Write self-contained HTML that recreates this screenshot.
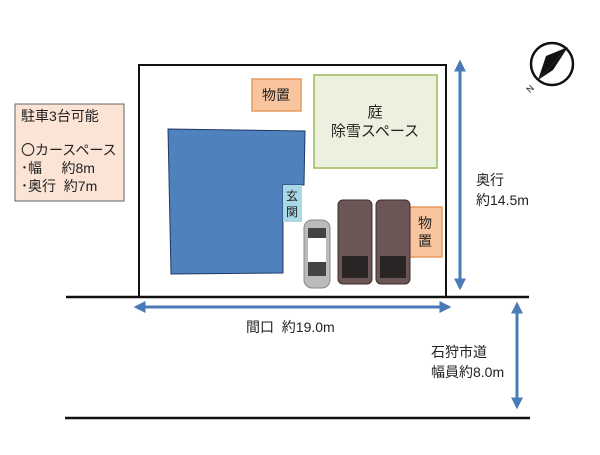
<!DOCTYPE html>
<html><head><meta charset="utf-8"><style>
body{margin:0;background:#fff;width:600px;height:450px;overflow:hidden}
text{font-family:"Liberation Sans","Noto Sans CJK JP",sans-serif;fill:#222;white-space:pre}
</style></head><body>
<svg width="600" height="450" viewBox="0 0 600 450">
<defs>
<marker id="ah" viewBox="0 0 10 10" refX="8" refY="5" markerWidth="4" markerHeight="4" orient="auto-start-reverse"><path d="M0,0L10,5L0,10z" fill="#4a7ab8"/></marker>
</defs>
<rect x="139" y="65" width="307" height="232" fill="#fff" stroke="#111" stroke-width="2"/>
<line x1="66" y1="297" x2="529" y2="297" stroke="#111" stroke-width="2.5"/>
<line x1="65" y1="418" x2="530" y2="418" stroke="#111" stroke-width="2.5"/>
<rect x="15" y="104" width="109" height="97" fill="#fbe4d6" stroke="#666"/>
<text font-size="14" x="21" y="121">駐車3台可能</text>
<text font-size="14" x="21" y="155">〇カースペース</text>
<text font-size="14" x="21" y="173">･幅&#160;&#160;&#160;&#160;&#160;約8m</text>
<text font-size="14" x="21" y="191">･奥行&#160;&#160;約7m</text>
<polygon points="168,129 305,131 304,185 283,185 283,273 171,274" fill="#4f81bd" stroke="#1f3864" stroke-width="1"/>
<rect x="283" y="185" width="19" height="37" fill="#a9d8e6"/>
<text font-size="12" x="286" y="200">玄</text><text font-size="12" x="286" y="216">関</text>
<rect x="252" y="79" width="49" height="32" fill="#f8c59e" stroke="#e79a5f" stroke-width="1.5"/>
<text font-size="14" x="262" y="100">物置</text>
<rect x="314" y="75" width="123" height="93" fill="#ebf1de" stroke="#9bbb59" stroke-width="1.5"/>
<text font-size="15" x="375" y="117" text-anchor="middle">庭</text>
<text font-size="15" x="375" y="136" text-anchor="middle">除雪スペース</text>
<rect x="409" y="207" width="33" height="50" fill="#f8c59e" stroke="#e79a5f" stroke-width="1.5"/>
<text font-size="14" x="418" y="228">物</text><text font-size="14" x="418" y="246">置</text>
<rect x="304" y="220" width="26" height="68" rx="8" fill="#bbb" stroke="#888"/>
<rect x="308" y="238" width="18" height="24" fill="#fff"/>
<rect x="308" y="228" width="18" height="10" fill="#444"/>
<rect x="308" y="262" width="18" height="14" fill="#444"/>
<rect x="338" y="200" width="34" height="84" rx="5" fill="#6b5555" stroke="#3e2e2e"/>
<rect x="342" y="256" width="26" height="22" fill="#2a2424"/>
<rect x="376" y="200" width="34" height="84" rx="5" fill="#6b5555" stroke="#3e2e2e"/>
<rect x="380" y="256" width="26" height="22" fill="#2a2424"/>
<line x1="460" y1="62" x2="460" y2="288" stroke="#4a7ab8" stroke-width="3" marker-start="url(#ah)" marker-end="url(#ah)"/>
<text font-size="14" x="476" y="185">奥行</text>
<text font-size="14" x="476" y="205">約14.5m</text>
<line x1="136" y1="307" x2="449" y2="307" stroke="#4a7ab8" stroke-width="3" marker-start="url(#ah)" marker-end="url(#ah)"/>
<text font-size="14" x="246" y="332">間口&#160;&#160;約19.0m</text>
<line x1="517" y1="304" x2="517" y2="407" stroke="#4a7ab8" stroke-width="3" marker-start="url(#ah)" marker-end="url(#ah)"/>
<text font-size="14" x="431" y="357">石狩市道</text>
<text font-size="14" x="431" y="377">幅員約8.0m</text>
<circle cx="552" cy="64" r="21" fill="#fff" stroke="#111" stroke-width="2.5"/>
<polygon points="568,47 538,80 553,70" fill="#111"/>
<polygon points="568,47 546,56 538,80" fill="#111"/>
<text font-size="9" x="527" y="92" transform="rotate(-45 530 89)">N</text>
</svg>
</body></html>
